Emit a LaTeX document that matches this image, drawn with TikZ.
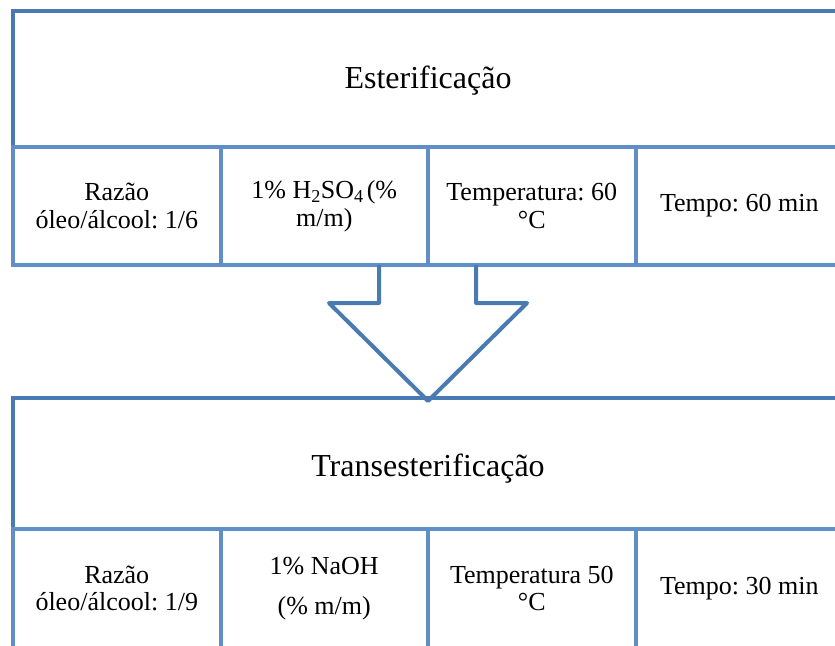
\documentclass[tikz,border=0pt]{standalone}
\usepackage{fontspec}
\setmainfont{Liberation Serif}
\frenchspacing
\definecolor{boxblue}{RGB}{74,122,178}
\definecolor{cellblue}{RGB}{96,142,198}
\tikzset{
 bigbox/.style={draw=boxblue, line width=4pt, minimum width=830pt, inner sep=0pt, font=\fontsize{32}{36}\selectfont},
 cell/.style={draw=cellblue, line width=4pt, minimum width=207.5pt, inner sep=0pt, align=center, font=\frenchspacing\fontsize{26}{27.5}\selectfont},
 arrowshape/.style={draw=boxblue, line width=4pt, line join=round}
}
\begin{document}
\begin{tikzpicture}[x=1pt,y=-1pt]
\useasboundingbox (0,0) rectangle (835,645);
\clip (0,0) rectangle (835,645);
% top block
\node[bigbox, minimum height=136pt, text height=26pt] (est) at (428,79) {Esterificação};
\node[cell, minimum height=118pt] (e1) at (116.75,206) {Razão\\óleo/álcool: 1/6};
\node[cell, minimum height=118pt] (e2) at (324.25,206) {1\% H\textsubscript{2}SO\textsubscript{4}\hspace{0.12em}(\%\\m/m)};
\node[cell, minimum height=118pt] (e3) at (531.75,206) {Temperatura: 60\\°C};
\node[cell, minimum height=118pt] (e4) at (739.25,206) {Tempo: 60 min};
% bottom block
\node[bigbox, minimum height=131pt, text height=33pt] (trans) at (428,463.5) {Transesterificação};
\node[cell, minimum height=119pt] (t1) at (116.75,588.5) {Razão\\óleo/álcool: 1/9};
\node[cell, minimum height=119pt] (t2) at (324.25,588.5) {1\% NaOH\\[12.5pt](\% m/m)};
\node[cell, minimum height=119pt] (t3) at (531.75,588.5) {Temperatura 50\\°C};
\node[cell, minimum height=119pt] (t4) at (739.25,588.5) {Tempo: 30 min};
% block arrow
\draw[arrowshape] (379,265) -- (379,303) -- (329,303) -- (428,401) -- (527,303) -- (476,303) -- (476,265);
\end{tikzpicture}
\end{document}
